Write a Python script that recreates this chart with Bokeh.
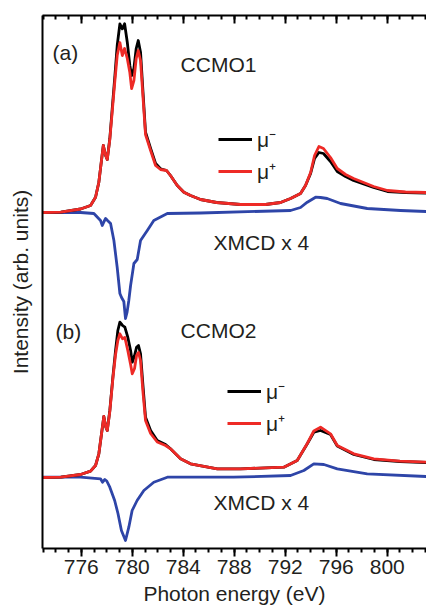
from bokeh.plotting import figure
from bokeh.models import (Range1d, LinearAxis, SingleIntervalTicker, FixedTicker,
                          Label, Legend, LegendItem)
from bokeh.embed import file_html
from bokeh.resources import INLINE

# ---------------- data ----------------
# Panel (a): CCMO1
E_A = [773.0, 774.4, 775.95, 776.73, 777.12, 777.38, 777.57, 777.73, 777.91, 778.04,
       778.24, 778.43, 778.64, 778.82, 779.03, 779.22, 779.40, 779.61, 779.81, 779.95,
       780.13, 780.31, 780.47, 780.65, 780.86, 781.04, 781.44, 781.83, 782.22, 782.69,
       783.00, 783.53, 784.05, 784.57, 785.36, 786.61, 788.49, 790.45, 791.63, 792.42,
       793.20, 793.59, 793.99, 794.30, 794.64, 795.00, 795.55, 796.08, 796.73, 797.36,
       798.93, 800.02, 801.44, 803.08]
MU_MINUS_A = [336, 336.3, 339.5, 343, 351.3, 366.3, 386.3, 403, 393, 389,
              410, 440, 473, 503, 524.7, 519.7, 524.7, 506.3, 483, 473,
              480, 500, 508, 496.3, 453, 416.3, 400, 385, 379.7, 378,
              373, 363, 356.3, 353, 349, 346, 344, 344, 346, 350,
              355, 363, 375, 390, 396, 395, 387, 377, 372, 368,
              361, 357, 356, 355.5]
MU_PLUS_A = [336, 336.3, 339.5, 343, 351.3, 366.3, 386.3, 403, 393, 389,
             409, 437, 468, 493, 506, 493, 500, 490, 476, 460,
             468, 490, 498, 488, 448, 414, 398, 383, 379, 378,
             373, 363, 356.3, 353, 349, 346, 344, 344, 346, 350,
             355, 363, 376, 393, 402, 400, 391, 380, 374, 370,
             362, 358, 356.5, 356]
E_XA = [773.0, 775.95, 776.99, 777.51, 777.65, 777.79, 777.91, 778.06, 778.30, 778.56,
        778.82, 779.03, 779.16, 779.34, 779.47, 779.59, 779.73, 779.87, 780.13, 780.39,
        780.65, 781.18, 781.69, 782.75, 785.36, 792.42, 793.20, 793.73, 794.38, 794.77,
        795.29, 796.34, 798.43, 801.04, 803.08]
XMCD_A = [336, 336, 335, 328, 323, 327, 330, 328, 325, 308,
          281, 255, 251, 247, 230, 236, 248, 263, 285, 289,
          308, 318, 328, 335, 335.5, 338, 341, 346.3, 351.3, 351,
          350, 345, 340, 338, 337]

# Panel (b): CCMO2
E_B = [773.0, 774.4, 775.95, 776.73, 777.12, 777.38, 777.59, 777.77, 777.93, 778.04,
       778.24, 778.48, 778.69, 778.87, 779.03, 779.24, 779.42, 779.65, 779.87, 780.00,
       780.18, 780.34, 780.49, 780.65, 780.83, 781.04, 781.44, 781.96, 782.61, 783.00,
       783.79, 784.57, 786.67, 788.49, 791.89, 792.94, 793.73, 794.24, 794.77, 795.55,
       796.08, 797.38, 798.95, 801.0, 803.08]
MU_MINUS_B = [71, 71.3, 74, 77.3, 83, 94.7, 114.7, 132, 121.3, 118,
              138, 171.3, 198, 218, 226.3, 223, 221.3, 211.3, 198, 186.3,
              193, 201.3, 203, 194.7, 164.7, 131.3, 118, 108, 104, 99.7,
              89.7, 84.7, 79.7, 79.7, 81.3, 88, 104.7, 116.3, 118, 114,
              102.5, 94, 89, 87, 86]
MU_PLUS_B = [71, 71.3, 74, 77.3, 83, 94.7, 114.7, 132, 121.3, 118,
             137, 170, 194, 208, 214.7, 209.7, 211, 198, 184, 174.7,
             180, 193, 196, 188, 158, 128, 115, 106.5, 103, 99.7,
             89.7, 84.7, 79.7, 79.7, 81.3, 88, 105, 117.5, 121.3, 114.7,
             103, 94.7, 89.7, 87.3, 86.3]
E_XB = [773.0, 775.95, 777.51, 777.67, 777.85, 778.0, 778.24, 778.62, 778.88, 779.15,
        779.47, 779.73, 779.99, 780.38, 780.91, 781.69, 782.75, 787.95, 792.42, 793.46,
        794.24, 795.03, 796.08, 798.43, 803.08]
XMCD_B = [71.3, 71.3, 69.7, 66.3, 69, 67.5, 61.3, 48, 35, 18,
          8, 21.3, 38, 48, 58, 66.3, 71.3, 71.3, 73, 78,
          84.7, 84, 79.7, 74.7, 72]

X_TICK_STEP = 4
LEGEND_LABELS = ["\u03bc\u207b", "\u03bc\u207a"]

# ---------------- styling ----------------
FONT = "Liberation Sans"
TXT = "#231f20"
BLACK = "#000000"
RED = "#ee2a26"
BLUE = "#2e45a8"
LW = 2.8

# Bokeh's page template has no body margin, so the figure starts at (0, 0)
p = figure(frame_width=384, frame_height=533,
           x_range=Range1d(772.96, 803.08), y_range=Range1d(0, 533),
           output_backend="svg", toolbar_location=None,
           min_border_left=42, min_border_right=0, min_border_top=15,
           min_border_bottom=0)
p.grid.visible = False
p.outline_line_color = None
p.background_fill_color = "white"
p.border_fill_color = "white"

# bottom axis
xa = p.xaxis[0]
xa.ticker = SingleIntervalTicker(interval=X_TICK_STEP, num_minor_ticks=4)
xa.major_tick_in = 0
xa.major_tick_out = 8
xa.minor_tick_in = 0
xa.minor_tick_out = 4
xa.axis_line_width = 2
xa.major_tick_line_width = 2
xa.minor_tick_line_width = 2
xa.major_label_standoff = 3
xa.major_label_text_font = FONT
xa.major_label_text_font_size = "21px"
xa.major_label_text_color = TXT
xa.axis_label = "Photon energy (eV)"
xa.axis_label_text_font = FONT
xa.axis_label_text_font_size = "21px"
xa.axis_label_text_font_style = "normal"
xa.axis_label_text_color = TXT
xa.axis_label_standoff = 5

# top axis (ticks only, pointing inward; labels not drawn)
top = LinearAxis(ticker=SingleIntervalTicker(interval=X_TICK_STEP, num_minor_ticks=4),
                 major_tick_in=8, major_tick_out=0, minor_tick_in=4, minor_tick_out=0,
                 axis_line_width=2, major_tick_line_width=2, minor_tick_line_width=2,
                 major_label_text_font_size="1px", major_label_text_color=None,
                 major_label_standoff=0)
p.add_layout(top, "above")

# left axis (line + title only)
ya = p.yaxis[0]
ya.ticker = FixedTicker(ticks=[])
ya.major_tick_in = 0
ya.major_tick_out = 0
ya.minor_tick_in = 0
ya.minor_tick_out = 0
ya.major_label_standoff = 0
ya.axis_line_width = 2
ya.axis_label = "Intensity (arb. units)"
ya.axis_label_text_font = FONT
ya.axis_label_text_font_size = "21px"
ya.axis_label_text_font_style = "normal"
ya.axis_label_text_color = TXT
ya.axis_label_standoff = 11

# curves
xb_a = p.line(E_XA, XMCD_A, line_color=BLUE, line_width=LW, line_join="round")
mm_a = p.line(E_A, MU_MINUS_A, line_color=BLACK, line_width=LW, line_join="round")
mp_a = p.line(E_A, MU_PLUS_A, line_color=RED, line_width=LW, line_join="round")
xb_b = p.line(E_XB, XMCD_B, line_color=BLUE, line_width=LW, line_join="round")
mm_b = p.line(E_B, MU_MINUS_B, line_color=BLACK, line_width=LW, line_join="round")
mp_b = p.line(E_B, MU_PLUS_B, line_color=RED, line_width=LW, line_join="round")


def add_legend(r_minus, r_plus, loc):
    leg = Legend(items=[LegendItem(label=LEGEND_LABELS[0], renderers=[r_minus]),
                        LegendItem(label=LEGEND_LABELS[1], renderers=[r_plus])],
                 location=loc, orientation="vertical",
                 glyph_width=34, glyph_height=20, label_height=20,
                 spacing=4, padding=0, margin=0, label_standoff=5,
                 border_line_color=None, background_fill_alpha=0,
                 label_text_font=FONT, label_text_font_size="21px",
                 label_text_color=TXT)
    p.add_layout(leg, "center")


add_legend(mm_a, mp_a, (176, 363))
add_legend(mm_b, mp_b, (185, 111))

# annotations
for x, y, t in [(773.75, 496, "(a)"), (783.79, 484, "CCMO1"),
                (786.38, 306, "XMCD x 4"), (773.98, 217, "(b)"),
                (783.79, 218, "CCMO2"), (786.38, 46, "XMCD x 4")]:
    p.add_layout(Label(x=x, y=y, text=t, text_baseline="middle", text_align="left",
                       text_font=FONT, text_font_size="21px", text_color=TXT))

open("out.html", "w").write(file_html(p, INLINE))
